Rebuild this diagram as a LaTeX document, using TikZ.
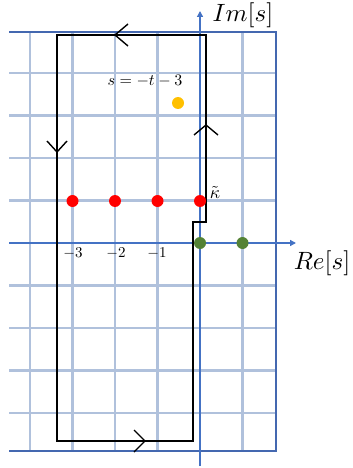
\documentclass[tikz,border=0pt]{standalone}
\usepackage{graphicx}
\usetikzlibrary{arrows.meta,calc}
\definecolor{gridc}{RGB}{176,193,220}
\definecolor{framec}{RGB}{68,104,176}
\definecolor{axisc}{RGB}{68,114,196}
\definecolor{redc}{RGB}{255,0,0}
\definecolor{greenc}{RGB}{84,130,53}
\definecolor{orangec}{RGB}{255,192,0}
\begin{document}
\begin{tikzpicture}[x=1pt,y=-1pt,
  gridline/.style={gridc,line width=2.6pt},
  frameline/.style={framec,line width=1.6pt},
  axisline/.style={axisc,line width=1.3pt,-{Triangle[length=6pt,width=6pt]}},
  contour/.style={black,line width=2.2pt,line join=miter},
  chev/.style={black,line width=1.4pt},
  dotnode/.style={circle,inner sep=0pt,minimum size=12pt},
  lbl/.style={inner sep=0pt}]
\useasboundingbox (0,0) rectangle (353,468);
% grid
\foreach \x in {30,72.5,115,157.5,242.5}
  \draw[gridline] (\x,32) -- (\x,451);
\foreach \y in {73,115.5,158,200.5,285.5,328,370.5,413}
  \draw[gridline] (9,\y) -- (276,\y);
\draw[gridline] (200,32) -- (200,451);
\draw[gridline] (9,243) -- (276,243);
% frame
\draw[frameline] (9,32) -- (276,32) -- (276,451) -- (9,451);
% axes
\coordinate (xs) at (9,243);
\coordinate (xe) at (296,243);
\coordinate (ys) at (200,466);
\coordinate (ye) at (200,11);
\draw[axisline] (xs) -- (xe);
\draw[axisline] (ys) -- (ye);
\node[lbl] (im) at (243,15) {\scalebox{2.5}{$Im[s]$}};
\node[lbl] (re) at (322,263) {\scalebox{2.5}{$Re[s]$}};
% contour
\coordinate (c1) at (206,35);
\coordinate (c2) at (57,35);
\coordinate (c3) at (57,441);
\coordinate (c4) at (193,441);
\coordinate (c5) at (193,222);
\coordinate (c6) at (206,222);
\draw[contour] (c1) -- (c2) -- (c3) -- (c4) -- (c5) -- (c6) -- cycle;
% chevrons
\coordinate (ta) at (115,35);
\draw[chev] ($(ta)+(13,-11)$) -- (ta) -- ($(ta)+(13,11)$);
\coordinate (la) at (57,152);
\draw[chev] ($(la)+(-10,-11)$) -- (la) -- ($(la)+(10,-11)$);
\coordinate (ba) at (145,441);
\draw[chev] ($(ba)+(-11,-11)$) -- (ba) -- ($(ba)+(-11,11)$);
\coordinate (ra) at (206,125);
\draw[chev] ($(ra)+(-12,10)$) -- (ra) -- ($(ra)+(12,10)$);
% dots
\node[dotnode,fill=redc] (r1) at (72.5,201) {};
\node[dotnode,fill=redc] (r2) at (115,201) {};
\node[dotnode,fill=redc] (r3) at (157.5,201) {};
\node[dotnode,fill=redc] (r4) at (200,201) {};
\node[dotnode,fill=greenc] (g1) at (200,243) {};
\node[dotnode,fill=greenc] (g2) at (242.5,243) {};
\node[dotnode,fill=orangec] (o1) at (178,103) {};
% labels
\node[lbl] (st) at (145,81) {\scalebox{1.6}{$s=-t-3$}};
\node[lbl] (ka) at (215,192) {\scalebox{1.8}{$\tilde{\kappa}$}};
\node[lbl] (m3) at (73,253) {\scalebox{1.5}{$-3$}};
\node[lbl] (m2) at (116,253) {\scalebox{1.5}{$-2$}};
\node[lbl] (m1) at (157,253) {\scalebox{1.5}{$-1$}};
\end{tikzpicture}
\end{document}
